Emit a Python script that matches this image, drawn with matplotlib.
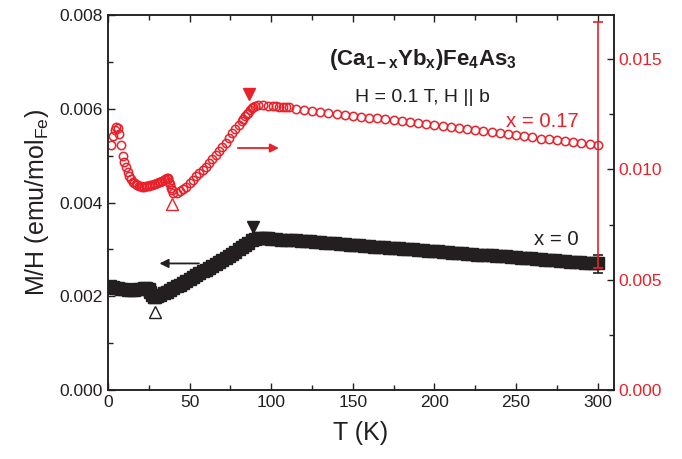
import matplotlib
matplotlib.use('Agg')
import matplotlib.pyplot as plt
from matplotlib.ticker import MultipleLocator, FormatStrFormatter

plt.rcParams['font.family'] = ['Liberation Sans', 'DejaVu Sans']
plt.rcParams['mathtext.fontset'] = 'custom'
plt.rcParams['mathtext.rm'] = 'Liberation Sans'
plt.rcParams['mathtext.it'] = 'Liberation Sans'
plt.rcParams['mathtext.bf'] = 'Liberation Sans:bold'

RED = '#e8212b'
DARK = '#231f20'

# x = 0 sample, left axis (emu/mol_Fe)
T_x0 = [1.5, 3, 4.5, 6, 8, 10, 12, 14, 16, 18, 20, 22, 23.5, 25, 26, 27, 28, 29,
        30, 32, 34, 36, 38, 40, 42, 44, 46, 48, 50, 52, 54, 56, 58, 60, 62, 64,
        66, 68, 70, 72, 74, 76, 78, 80, 82, 84, 86, 88, 90, 92, 94, 96, 98, 100,
        103, 106, 109, 112, 115, 118, 121, 124, 127, 130, 133, 136, 139, 142,
        145, 148, 151, 154, 157, 160, 163, 166, 169, 172, 175, 178, 181, 184,
        187, 190, 193, 196, 199, 202, 205, 208, 211, 214, 217, 220, 223, 226,
        229, 232, 235, 238, 241, 244, 247, 250, 253, 256, 259, 262, 265, 268,
        271, 274, 277, 280, 283, 286, 289, 292, 295, 298, 300]
M_x0 = [0.00222, 0.00220, 0.00218, 0.00217, 0.00216, 0.00215, 0.00214, 0.00214,
        0.00214, 0.00215, 0.00216, 0.00217, 0.00218, 0.00216, 0.00209, 0.00202,
        0.00199, 0.00199, 0.00201, 0.00203, 0.00206, 0.00209, 0.00213, 0.00217,
        0.00221, 0.00225, 0.00229, 0.00233, 0.00237, 0.00241, 0.00245, 0.00249,
        0.00253, 0.00257, 0.00261, 0.00265, 0.00269, 0.00273, 0.00277, 0.00282,
        0.00286, 0.00291, 0.00295, 0.00300, 0.00305, 0.00309, 0.00314, 0.00319,
        0.00323, 0.00324, 0.00324, 0.00324, 0.00324, 0.00323,
        0.00322, 0.00321, 0.00321, 0.00320, 0.00319, 0.00318, 0.00317, 0.00317,
        0.00316, 0.00315, 0.00314, 0.00313, 0.00313, 0.00312, 0.00311, 0.00310,
        0.00309, 0.00309, 0.00308, 0.00307, 0.00306, 0.00305, 0.00305, 0.00304,
        0.00303, 0.00302, 0.00301, 0.00301, 0.00300, 0.00299, 0.00298, 0.00297,
        0.00297, 0.00296, 0.00295, 0.00294, 0.00293, 0.00293, 0.00292, 0.00291,
        0.00290, 0.00289, 0.00289, 0.00288, 0.00287, 0.00286, 0.00285, 0.00285,
        0.00284, 0.00283, 0.00282, 0.00281, 0.00281, 0.00280, 0.00279, 0.00278,
        0.00277, 0.00277, 0.00276, 0.00275, 0.00274, 0.00273, 0.00273, 0.00272,
        0.00271, 0.00270, 0.00270]

# x = 0.17 sample, right axis
T_x17 = [2, 3, 4, 5, 6, 7, 8, 9, 10, 11, 12, 13, 14, 15, 16, 17, 18, 19, 20, 21,
         22, 23, 24, 25, 26, 27, 28, 29, 30, 31, 32, 33, 34, 35, 36, 36.5, 37,
         37.5, 38, 38.5, 39, 40, 42, 44, 46, 48, 50, 52, 54, 56, 58, 60, 62, 64,
         66, 68, 70, 72, 74, 76, 78, 80, 82, 83, 84, 85, 86, 87, 88, 89, 90, 92,
         95, 98, 101, 103, 105, 107, 109, 111, 115, 120, 125, 130, 135, 140, 145,
         150, 155, 160, 165, 170, 175, 180, 185, 190, 195, 200, 205, 210, 215,
         220, 225, 230, 235, 240, 245, 250, 255, 260, 265, 270, 275, 280, 285,
         290, 295, 300]
M_x17 = [0.01112, 0.01150, 0.01180, 0.01193, 0.01190, 0.01160, 0.01110, 0.01060,
         0.01035, 0.01013, 0.00990, 0.00970, 0.00955, 0.00945, 0.00938, 0.00932,
         0.00928, 0.00925, 0.00923, 0.00922, 0.00922, 0.00923, 0.00924, 0.00926,
         0.00928, 0.00930, 0.00933, 0.00936, 0.00939, 0.00942, 0.00945, 0.00948,
         0.00952, 0.00956, 0.00960, 0.00960, 0.00955, 0.00945, 0.00932, 0.00918,
         0.00905, 0.00894, 0.00894, 0.00903, 0.00912, 0.00922, 0.00937, 0.00953,
         0.00968, 0.00982, 0.00997, 0.01011, 0.01030, 0.01048, 0.01067, 0.01085,
         0.01103, 0.01122, 0.01143, 0.01165, 0.01185, 0.01203, 0.01221, 0.01230,
         0.01240, 0.01249, 0.01258, 0.01268, 0.01278, 0.01285, 0.01288, 0.01290,
         0.01290, 0.01288, 0.01287, 0.01286, 0.01285, 0.01284, 0.01283, 0.01281,
         0.01272, 0.01268, 0.01264, 0.01260, 0.01256, 0.01252, 0.01247, 0.01243,
         0.01239, 0.01235, 0.01231, 0.01227, 0.01223, 0.01219, 0.01215, 0.01210,
         0.01206, 0.01202, 0.01198, 0.01194, 0.01189, 0.01184, 0.01179, 0.01174,
         0.01169, 0.01164, 0.01159, 0.01155, 0.01150, 0.01145, 0.01140, 0.01136,
         0.01132, 0.01127, 0.01123, 0.01119, 0.01115, 0.01112]

# transition markers (T, value)
tn_x0 = (89, 0.00348)
tlow_x0 = (28.8, 0.00166)
tn_x17 = (86.3, 0.01343)
tlow_x17 = (39.4, 0.00844)

fig = plt.figure(figsize=(6.82, 4.59), dpi=100)
ax = fig.add_axes([0.1584, 0.1503, 0.7419, 0.8170])
ax2 = ax.twinx()

ax.plot(T_x0, M_x0, 's', color=DARK, ms=8, mec=DARK)
ax.errorbar([300], [0.00270], yerr=[[0.00021], [0.00018]], color=DARK,
            capsize=3.5, lw=1.2, capthick=1.2, fmt='none')
ax.plot(*tn_x0, 'v', color=DARK, ms=9)
ax.plot(*tlow_x0, '^', mfc='white', mec=DARK, ms=9, mew=1)
ax.annotate('', xy=(29.8, 0.0027), xytext=(57.4, 0.0027),
            arrowprops=dict(arrowstyle='-|>', color=DARK, lw=1.3, mutation_scale=13))

ax2.plot(T_x17, M_x17, 'o', mfc='none', mec=RED, ms=6, mew=1.1)
ax2.errorbar([300], [0.01112], yerr=[[0.00557], [0.00555]], color=RED,
             capsize=3.5, lw=1.2, capthick=1.2, fmt='none')
ax2.plot(*tn_x17, 'v', color=RED, ms=9)
ax2.plot(*tlow_x17, '^', mfc='white', mec=RED, ms=9, mew=1)
ax2.annotate('', xy=(106.4, 0.01097), xytext=(77.8, 0.01097),
             arrowprops=dict(arrowstyle='-|>', color=RED, lw=1.3, mutation_scale=13))

ax.set_xlim(0, 310)
ax.set_ylim(0, 0.008)
ax2.set_ylim(0, 0.017)

ax.xaxis.set_major_locator(MultipleLocator(50))
ax.xaxis.set_minor_locator(MultipleLocator(25))
ax.yaxis.set_major_locator(MultipleLocator(0.002))
ax.yaxis.set_minor_locator(MultipleLocator(0.001))
ax.yaxis.set_major_formatter(FormatStrFormatter('%.3f'))
ax2.yaxis.set_major_locator(MultipleLocator(0.005))
ax2.yaxis.set_minor_locator(MultipleLocator(0.0025))
ax2.yaxis.set_major_formatter(FormatStrFormatter('%.3f'))

ax.tick_params(which='both', direction='in', top=True, labelsize=12.5,
               colors=DARK, width=1)
ax.tick_params(which='major', length=5)
ax.tick_params(which='minor', length=3.5)
ax2.tick_params(which='both', direction='in', labelsize=12.5, labelcolor=RED,
                color=DARK, width=1)
ax2.tick_params(which='major', length=5)
ax2.tick_params(which='minor', length=3.5)
for a in (ax, ax2):
    for s in a.spines.values():
        s.set_color(DARK)
        s.set_linewidth(1.1)

ax.set_xlabel('T (K)', fontsize=18, color=DARK, labelpad=8)
ax.set_ylabel('M/H (emu/mol$_{\\mathrm{Fe}}$)', fontsize=18, color=DARK, labelpad=6)

fig.text(422.5 / 682, 1 - 65 / 459,
         '(Ca$_{\\mathbf{1-x}}$Yb$_{\\mathbf{x}}$)Fe$_{\\mathbf{4}}$As$_{\\mathbf{3}}$',
         ha='center', va='baseline', fontsize=16, fontweight='bold', color=DARK)
fig.text(422.5 / 682, 1 - 101.7 / 459, 'H = 0.1 T, H || b',
         ha='center', va='baseline', fontsize=14, color=DARK)
fig.text(578.3 / 682, 1 - 126.7 / 459, 'x = 0.17',
         ha='right', va='baseline', fontsize=14.7, color=RED)
fig.text(578.3 / 682, 1 - 245 / 459, 'x = 0',
         ha='right', va='baseline', fontsize=14.7, color=DARK)

fig.savefig('out.png', dpi=100)
